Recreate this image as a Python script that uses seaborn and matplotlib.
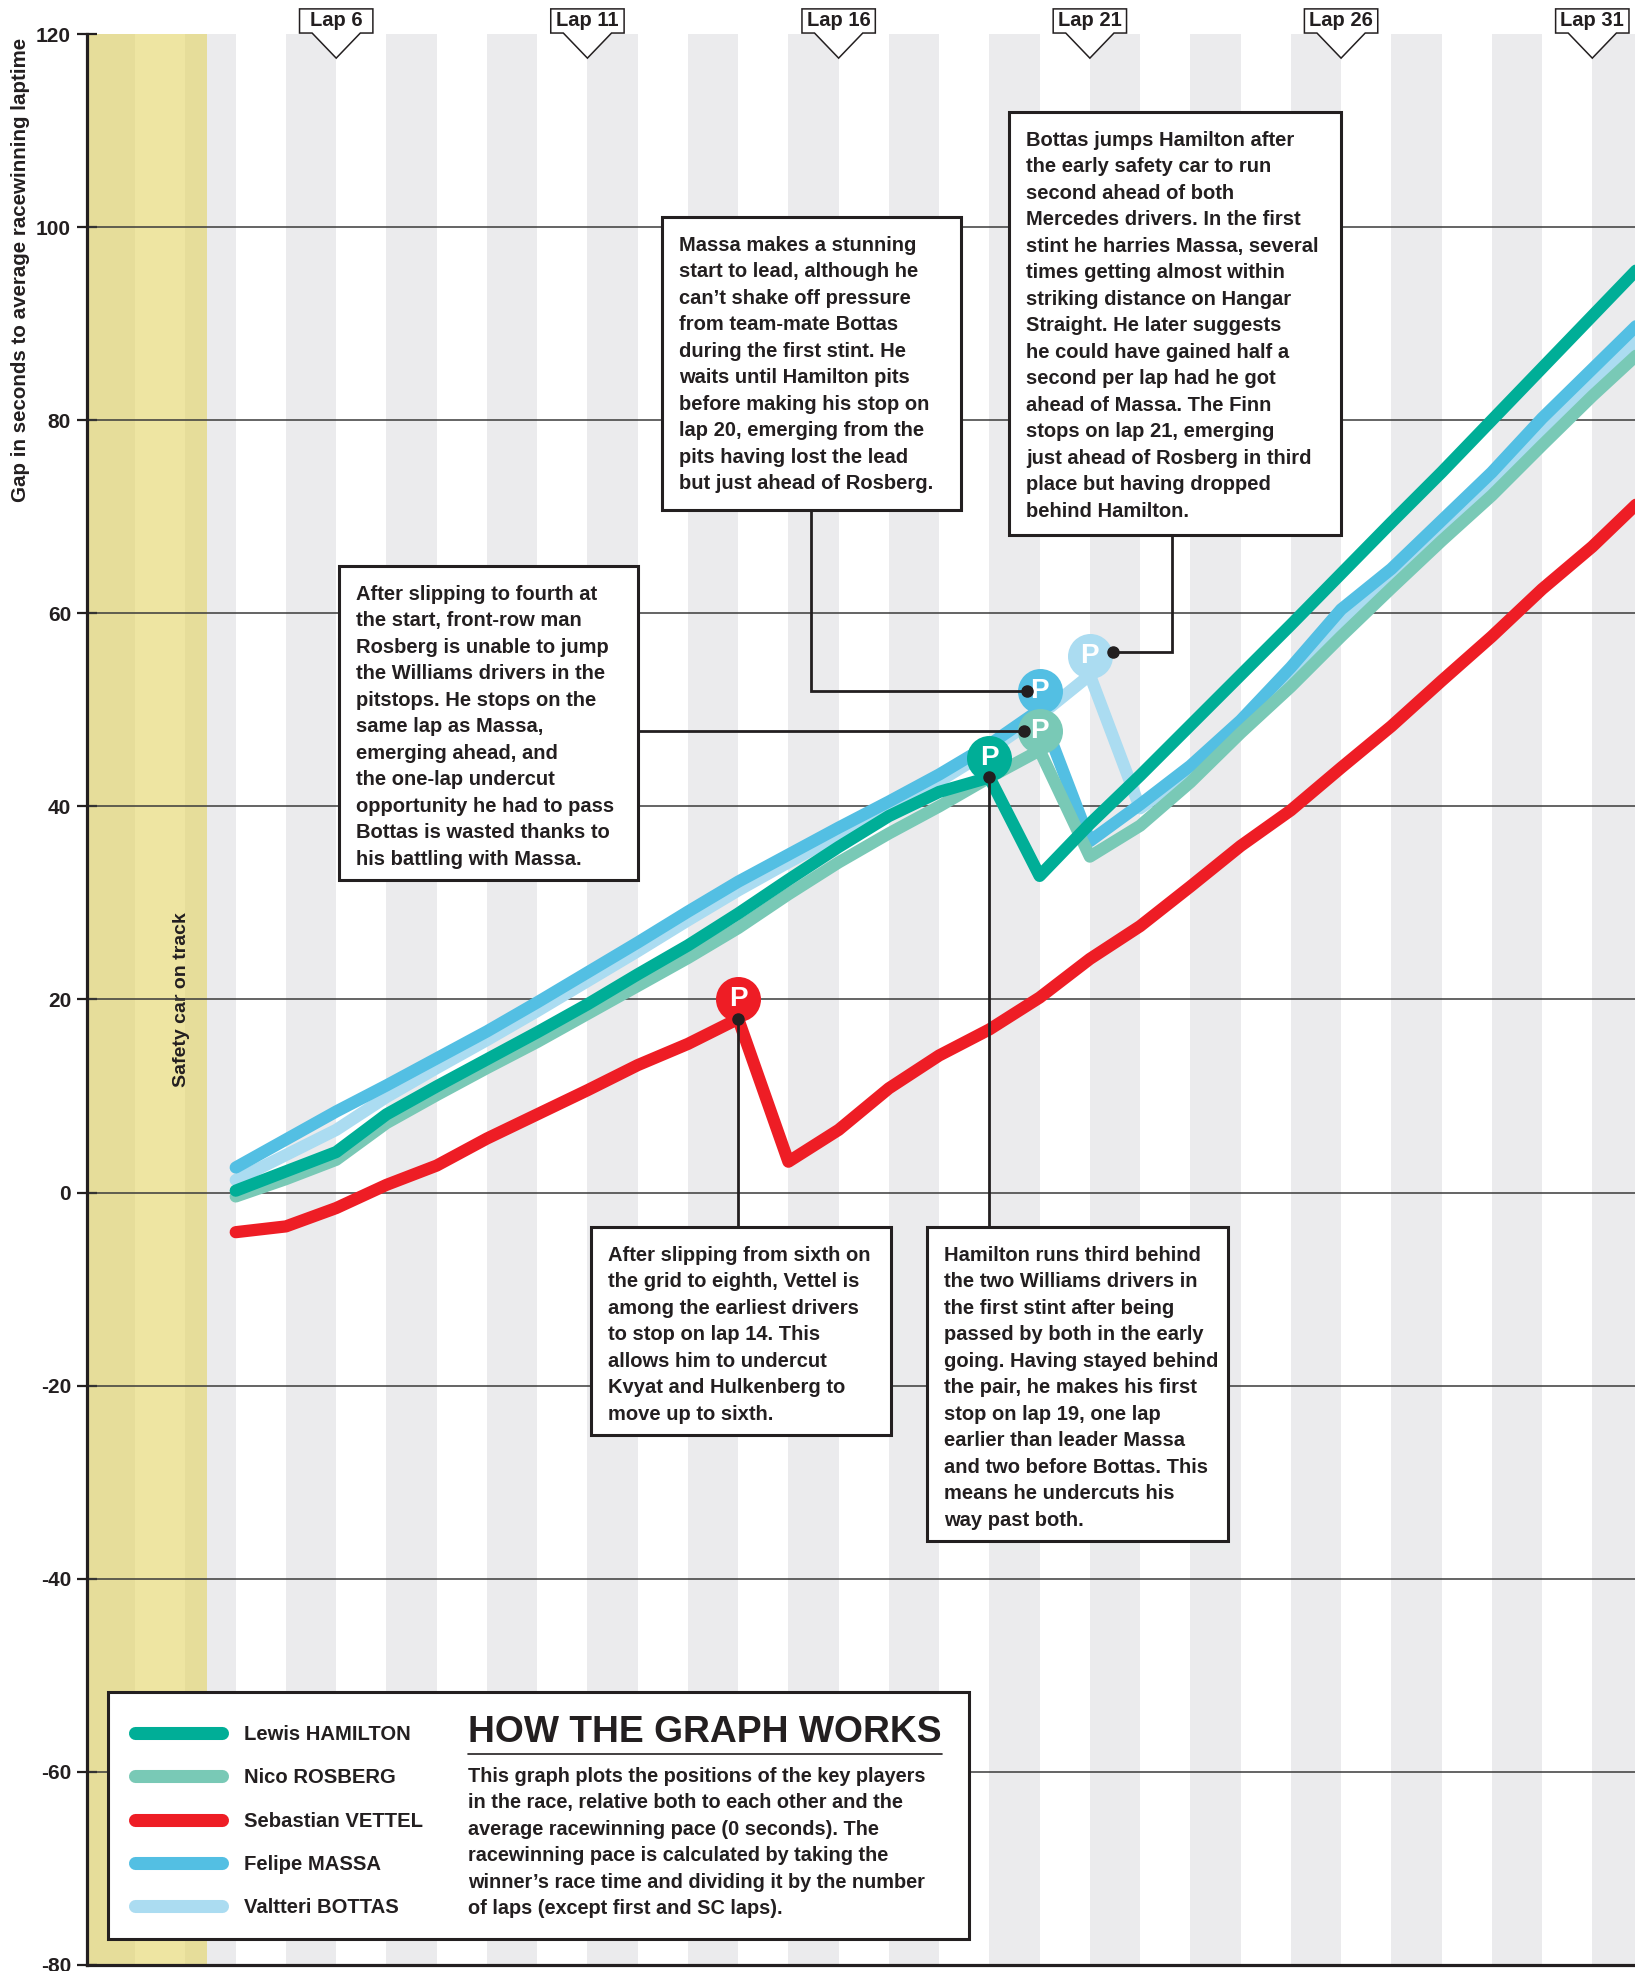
import matplotlib
matplotlib.use("Agg")
import matplotlib.pyplot as plt
import seaborn as sns
import pandas as pd
from matplotlib.patches import Rectangle, Polygon
from matplotlib.lines import Line2D

# ── Data ──────────────────────────────────────────────────────
laps = list(range(4, 33))

hamilton = [0.2, 2.2, 4.2, 8.1, 11.0, 13.8, 16.6, 19.5, 22.6, 25.6, 28.9, 32.4,
            35.8, 39.0, 41.5, 43.0, 32.8, 38.2, 43.2, 48.4, 53.6, 58.8, 64.1,
            69.4, 74.6, 80.0, 85.4, 90.8, 96.2]
rosberg = [-0.4, 1.4, 3.4, 7.2, 10.1, 12.9, 15.6, 18.5, 21.4, 24.3, 27.4, 30.9,
           34.2, 37.2, 40.0, 43.0, 45.8, 34.8, 38.0, 42.5, 47.6, 52.4, 57.6,
           62.6, 67.5, 72.2, 77.4, 82.5, 87.3]
vettel = [-4.1, -3.5, -1.6, 0.8, 2.8, 5.6, 8.1, 10.6, 13.2, 15.4, 18.0, 3.2,
          6.5, 10.8, 14.2, 16.9, 20.2, 24.2, 27.6, 31.7, 35.9, 39.6, 44.0,
          48.3, 53.0, 57.6, 62.5, 66.9, 71.9]
massa = [2.6, 5.5, 8.4, 11.1, 13.9, 16.7, 19.7, 22.8, 25.9, 29.1, 32.2, 35.0,
         37.8, 40.5, 43.3, 46.4, 50.0, 36.4, 40.2, 44.2, 48.9, 54.4, 60.4,
         64.6, 69.6, 74.6, 80.2, 85.3, 90.4]
bottas = [1.3, 3.9, 6.5, 9.9, 12.9, 15.8, 18.8, 21.9, 25.0, 28.2, 31.3, 34.2,
          37.0, 39.8, 42.6, 45.8, 49.4, 53.6, 39.8, 43.5, 48.3, 53.6, 59.2,
          63.9, 68.8, 73.6, 79.0, 84.0, 88.9]

drivers = ["Lewis HAMILTON", "Nico ROSBERG", "Sebastian VETTEL",
           "Felipe MASSA", "Valtteri BOTTAS"]
series = [hamilton, rosberg, vettel, massa, bottas]
pit_laps = [19, 20, 14, 20, 21]
lap_markers = [6, 11, 16, 21, 26, 31]
y_ticks = [-80, -60, -40, -20, 0, 20, 40, 60, 80, 100, 120]
sc_start, sc_end = 1, 3.43

colors = {
    "Lewis HAMILTON":   "#00AE97",
    "Nico ROSBERG":     "#79C9B6",
    "Sebastian VETTEL": "#EE1D25",
    "Felipe MASSA":     "#53BFE3",
    "Valtteri BOTTAS":  "#ABDCF1",
}
draw_order = ["Valtteri BOTTAS", "Felipe MASSA", "Nico ROSBERG",
              "Lewis HAMILTON", "Sebastian VETTEL"]

DARK = "#231F20"
STRIPE = "#EBEBED"
TXT = 14.5

df = pd.concat([pd.DataFrame({"lap": laps, "gap": s, "driver": d})
                for d, s in zip(drivers, series)], ignore_index=True)

# ── Figure ────────────────────────────────────────────────────
sns.set_theme(style="white")
plt.rcParams["font.family"] = ["Liberation Sans", "DejaVu Sans"]
plt.rcParams["text.color"] = DARK

fig = plt.figure(figsize=(16.35, 19.71), dpi=100)
ax = fig.add_axes([87 / 1635, 6 / 1971, 1548 / 1635, 1931 / 1971])
ax.set_xlim(1.04, 31.85)
ax.set_ylim(-80, 120)

# lap stripes + safety car band
for k in range(1, 32, 2):
    ax.axvspan(k, k + 1, color=STRIPE, lw=0, zorder=0)
ax.axvspan(sc_start, sc_end, color="#E4D564", alpha=0.6, lw=0, zorder=0.5)
ax.text(2.93, 20, "Safety car on track", rotation=90, ha="center",
        va="center", fontsize=14, weight="bold", zorder=1)

for t in y_ticks[1:-1]:
    ax.axhline(t, color="#3A3A3A", lw=1.1, zorder=1)

# driver lines
sns.lineplot(data=df, x="lap", y="gap", hue="driver", hue_order=draw_order,
             palette=colors, linewidth=8.8, sort=False, estimator=None,
             legend=False, ax=ax)
for i, ln in enumerate(ax.lines[-len(draw_order):]):
    ln.set_zorder(3 + i)
    ln.set_solid_capstyle("round")
    ln.set_solid_joinstyle("round")

# pit stop markers
gap_at = {d: dict(zip(laps, s)) for d, s in zip(drivers, series)}
pit_of = dict(zip(drivers, pit_laps))
for i, d in enumerate(draw_order):
    px, py = pit_of[d], gap_at[d][pit_of[d]] + 2
    ax.plot(px, py, "o", ms=32.4, color=colors[d], mec="none", zorder=3.5 + i)
    ax.text(px, py, "P", color="white", ha="center", va="center",
            fontsize=20, weight="bold", zorder=3.6 + i,
            family=["Liberation Sans Narrow", "Liberation Sans"])

# annotation boxes: (text, x0, x1, top, bottom)
boxes = {
    "Felipe MASSA": ("Massa makes a stunning\nstart to lead, although he\n"
                     "can’t shake off pressure\nfrom team-mate Bottas\n"
                     "during the first stint. He\nwaits until Hamilton pits\n"
                     "before making his stop on\nlap 20, emerging from the\n"
                     "pits having lost the lead\nbut just ahead of Rosberg.",
                     12.49, 18.44, 101.05, 70.70),
    "Valtteri BOTTAS": ("Bottas jumps Hamilton after\nthe early safety car to run\n"
                        "second ahead of both\nMercedes drivers. In the first\n"
                        "stint he harries Massa, several\ntimes getting almost within\n"
                        "striking distance on Hangar\nStraight. He later suggests\n"
                        "he could have gained half a\nsecond per lap had he got\n"
                        "ahead of Massa. The Finn\nstops on lap 21, emerging\n"
                        "just ahead of Rosberg in third\nplace but having dropped\n"
                        "behind Hamilton.",
                        19.40, 26.00, 111.92, 68.11),
    "Nico ROSBERG": ("After slipping to fourth at\nthe start, front-row man\n"
                     "Rosberg is unable to jump\nthe Williams drivers in the\n"
                     "pitstops. He stops on the\nsame lap as Massa,\n"
                     "emerging ahead, and\nthe one-lap undercut\n"
                     "opportunity he had to pass\nBottas is wasted thanks to\n"
                     "his battling with Massa.",
                     6.06, 12.01, 64.90, 32.38),
    "Sebastian VETTEL": ("After slipping from sixth on\nthe grid to eighth, Vettel is\n"
                         "among the earliest drivers\nto stop on lap 14. This\n"
                         "allows him to undercut\nKvyat and Hulkenberg to\n"
                         "move up to sixth.",
                         11.08, 17.05, -3.56, -25.11),
    "Lewis HAMILTON": ("Hamilton runs third behind\nthe two Williams drivers in\n"
                       "the first stint after being\npassed by both in the early\n"
                       "going. Having stayed behind\nthe pair, he makes his first\n"
                       "stop on lap 19, one lap\nearlier than leader Massa\n"
                       "and two before Bottas. This\nmeans he undercuts his\n"
                       "way past both.",
                       17.76, 23.75, -3.56, -36.08),
}
for d, (txt, x0, x1, top, bot) in boxes.items():
    ax.add_patch(Rectangle((x0, bot), x1 - x0, top - bot, fc="white",
                           ec=DARK, lw=2.2, zorder=11))
    ax.text(x0 + 0.33, top - 1.95, txt, ha="left", va="top", fontsize=TXT,
            weight="bold", linespacing=1.5, zorder=12)

# leader lines from boxes to the pit markers
for d in drivers:
    px, gy = pit_of[d], gap_at[d][pit_of[d]]
    txt, x0, x1, top, bot = boxes[d]
    if d in ("Lewis HAMILTON", "Sebastian VETTEL"):
        dot = (px, gy)
        path = [(px, top), dot]
    elif d == "Felipe MASSA":
        dot = (px - 0.26, gy + 2)
        path = [(15.45, bot), (15.45, dot[1]), dot]
    elif d == "Nico ROSBERG":
        dot = (px - 0.32, gy + 2)
        path = [(x1, dot[1]), dot]
    else:
        dot = (px + 0.46, gy + 2.4)
        path = [(22.64, bot), (22.64, dot[1]), dot]
    xs, ys = zip(*path)
    ax.plot(xs, ys, color=DARK, lw=2.0, zorder=10, solid_joinstyle="miter")
    ax.plot(*dot, "o", ms=8, color=DARK, zorder=10.5)

# lap flags on top
for lm in lap_markers:
    flag = Polygon([(lm - 0.73, 122.6), (lm + 0.73, 122.6), (lm + 0.73, 120.1),
                    (lm + 0.48, 120.1), (lm, 117.5), (lm - 0.48, 120.1),
                    (lm - 0.73, 120.1)], closed=True, fc="white", ec=DARK,
                   lw=1.1, clip_on=False, zorder=15)
    ax.add_patch(flag)
    ax.text(lm, 121.35, f"Lap {lm}", ha="center", va="center", fontsize=14.5,
            weight="bold", clip_on=False, zorder=16)

# legend panel
ax.add_patch(Rectangle((1.46, -77.31), 18.60 - 1.46, 77.31 - 51.72,
                       fc="white", ec=DARK, lw=2.2, zorder=11))
handles = [Line2D([], [], color=colors[d], lw=9.4, solid_capstyle="round")
           for d in drivers]
leg = ax.legend(handles, drivers, loc="upper left",
                bbox_to_anchor=(135 / 1635, (1971 - 1725) / 1971),
                bbox_transform=fig.transFigure, frameon=False,
                handlelength=4.3, handletextpad=1.1, labelspacing=1.2,
                borderpad=0, borderaxespad=0,
                prop={"size": 14.6, "weight": "bold"})
leg.set_zorder(20)

ax.text(8.62, -56.9, "HOW THE GRAPH WORKS", ha="left", va="baseline",
        fontsize=26.8, weight="bold", zorder=12)
ax.plot([8.62, 18.06], [-58.15, -58.15], color=DARK, lw=1.2, zorder=12)
ax.text(8.62, -59.45,
        "This graph plots the positions of the key players\n"
        "in the race, relative both to each other and the\n"
        "average racewinning pace (0 seconds). The\n"
        "racewinning pace is calculated by taking the\n"
        "winner’s race time and dividing it by the number\n"
        "of laps (except first and SC laps).",
        ha="left", va="top", fontsize=14.3, weight="bold", linespacing=1.5,
        zorder=12)

# axes styling
ax.set_yticks(y_ticks)
ax.set_yticklabels([str(t) for t in y_ticks])
ax.set_xticks([])
ax.tick_params(axis="y", direction="inout", length=15, width=1.6, pad=4,
               labelsize=15, colors=DARK, left=True)
for lbl in ax.get_yticklabels():
    lbl.set_fontweight("bold")
ax.set_xlabel("")
ax.set_ylabel("")
for side in ("top", "right"):
    ax.spines[side].set_visible(False)
for side in ("left", "bottom"):
    ax.spines[side].set_linewidth(2.3)
    ax.spines[side].set_color(DARK)
    ax.spines[side].set_zorder(9)

fig.text(21 / 1635, 1 - 38 / 1971,
         "Gap in seconds to average racewinning laptime", rotation=90,
         ha="center", va="top", fontsize=14.75, weight="bold")

fig.savefig("out.png", dpi=100)
